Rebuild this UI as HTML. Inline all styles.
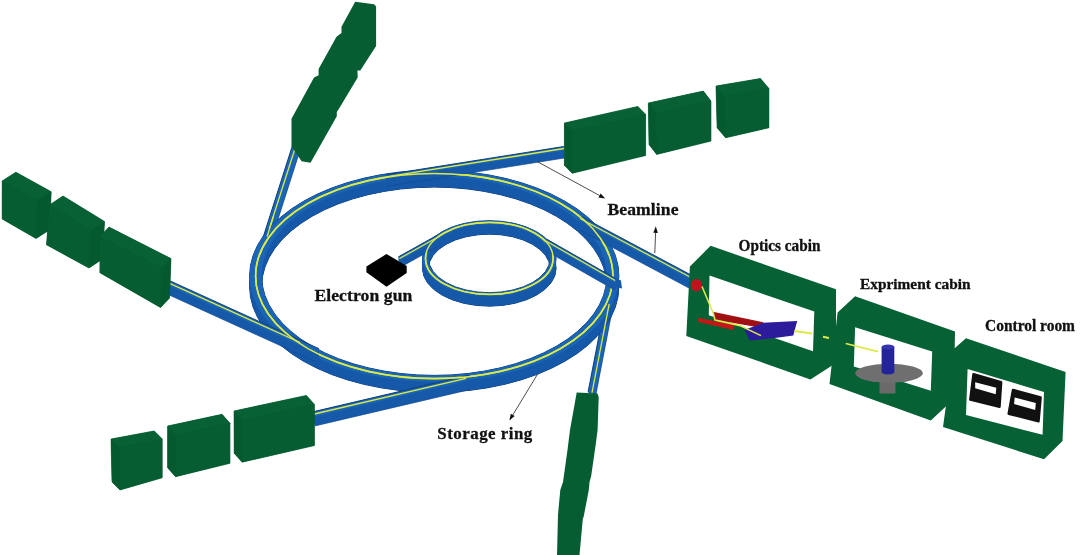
<!DOCTYPE html>
<html><head><meta charset="utf-8"><style>
html,body{margin:0;padding:0;background:#fff;}
svg{display:block;filter:blur(0.35px);}
</style></head><body>
<svg width="1080" height="555" viewBox="0 0 1080 555">
<rect width="1080" height="555" fill="#fff"/>
<polygon points="262.0,240.7 293.0,143.7 301.0,146.3 301.0,147.3 270.0,244.3 262.0,241.7" fill="#1759a9" />
<polygon points="293.0,143.7 262.0,240.7 270.0,243.3 301.0,146.3" fill="#1a65b5" />
<line x1="293.0" y1="143.7" x2="262.0" y2="240.7" stroke="#0e3c78" stroke-width="0.9"/>
<line x1="301.0" y1="147.3" x2="270.0" y2="244.3" stroke="#134b95" stroke-width="0.7"/>
<line x1="296.2" y1="144.8" x2="265.2" y2="241.8" stroke="#dcea48" stroke-width="1.3"/>
<polygon points="588.1,391.8 606.6,296.2 614.4,297.8 614.4,298.8 595.9,394.4 588.1,392.8" fill="#1759a9" />
<polygon points="588.1,391.8 606.6,296.2 614.4,297.8 595.9,393.4" fill="#1a65b5" />
<line x1="588.1" y1="391.8" x2="606.6" y2="296.2" stroke="#0e3c78" stroke-width="0.9"/>
<line x1="595.9" y1="394.4" x2="614.4" y2="298.8" stroke="#134b95" stroke-width="0.7"/>
<line x1="592.0" y1="392.6" x2="610.5" y2="297.0" stroke="#dcea48" stroke-width="1.3"/>
<path d="M249.59,286.50 a184.65,105.80 0 1,0 369.30,0 a184.65,105.80 0 1,0 -369.30,0 Z M261.59,286.50 a172.65,99.40 0 1,0 345.30,0 a172.65,99.40 0 1,0 -345.30,0 Z" fill="#1759a9" fill-rule="evenodd" stroke="#0e3c78" stroke-width="1"/>
<path d="M249.59,276.00 a184.65,105.80 0 1,0 369.30,0 a184.65,105.80 0 1,0 -369.30,0 Z M261.59,276.00 a172.65,99.40 0 1,0 345.30,0 a172.65,99.40 0 1,0 -345.30,0 Z" fill="#1759a9" fill-rule="evenodd" stroke="#0e3c78" stroke-width="1"/>
<path d="M249.59,286.50 a184.65,105.80 0 1,0 369.30,0 a184.65,105.80 0 1,0 -369.30,0 Z M261.59,286.50 a172.65,99.40 0 1,0 345.30,0 a172.65,99.40 0 1,0 -345.30,0 Z" fill="#1759a9" fill-rule="evenodd" />
<path d="M249.59,285.84 a184.65,105.80 0 1,0 369.30,0 a184.65,105.80 0 1,0 -369.30,0 Z M261.59,285.84 a172.65,99.40 0 1,0 345.30,0 a172.65,99.40 0 1,0 -345.30,0 Z" fill="#1759a9" fill-rule="evenodd" />
<path d="M249.59,285.19 a184.65,105.80 0 1,0 369.30,0 a184.65,105.80 0 1,0 -369.30,0 Z M261.59,285.19 a172.65,99.40 0 1,0 345.30,0 a172.65,99.40 0 1,0 -345.30,0 Z" fill="#1759a9" fill-rule="evenodd" />
<path d="M249.59,284.53 a184.65,105.80 0 1,0 369.30,0 a184.65,105.80 0 1,0 -369.30,0 Z M261.59,284.53 a172.65,99.40 0 1,0 345.30,0 a172.65,99.40 0 1,0 -345.30,0 Z" fill="#1759a9" fill-rule="evenodd" />
<path d="M249.59,283.88 a184.65,105.80 0 1,0 369.30,0 a184.65,105.80 0 1,0 -369.30,0 Z M261.59,283.88 a172.65,99.40 0 1,0 345.30,0 a172.65,99.40 0 1,0 -345.30,0 Z" fill="#1759a9" fill-rule="evenodd" />
<path d="M249.59,283.22 a184.65,105.80 0 1,0 369.30,0 a184.65,105.80 0 1,0 -369.30,0 Z M261.59,283.22 a172.65,99.40 0 1,0 345.30,0 a172.65,99.40 0 1,0 -345.30,0 Z" fill="#1759a9" fill-rule="evenodd" />
<path d="M249.59,282.56 a184.65,105.80 0 1,0 369.30,0 a184.65,105.80 0 1,0 -369.30,0 Z M261.59,282.56 a172.65,99.40 0 1,0 345.30,0 a172.65,99.40 0 1,0 -345.30,0 Z" fill="#1759a9" fill-rule="evenodd" />
<path d="M249.59,281.91 a184.65,105.80 0 1,0 369.30,0 a184.65,105.80 0 1,0 -369.30,0 Z M261.59,281.91 a172.65,99.40 0 1,0 345.30,0 a172.65,99.40 0 1,0 -345.30,0 Z" fill="#1759a9" fill-rule="evenodd" />
<path d="M249.59,281.25 a184.65,105.80 0 1,0 369.30,0 a184.65,105.80 0 1,0 -369.30,0 Z M261.59,281.25 a172.65,99.40 0 1,0 345.30,0 a172.65,99.40 0 1,0 -345.30,0 Z" fill="#1759a9" fill-rule="evenodd" />
<path d="M249.59,280.59 a184.65,105.80 0 1,0 369.30,0 a184.65,105.80 0 1,0 -369.30,0 Z M261.59,280.59 a172.65,99.40 0 1,0 345.30,0 a172.65,99.40 0 1,0 -345.30,0 Z" fill="#1759a9" fill-rule="evenodd" />
<path d="M249.59,279.94 a184.65,105.80 0 1,0 369.30,0 a184.65,105.80 0 1,0 -369.30,0 Z M261.59,279.94 a172.65,99.40 0 1,0 345.30,0 a172.65,99.40 0 1,0 -345.30,0 Z" fill="#1759a9" fill-rule="evenodd" />
<path d="M249.59,279.28 a184.65,105.80 0 1,0 369.30,0 a184.65,105.80 0 1,0 -369.30,0 Z M261.59,279.28 a172.65,99.40 0 1,0 345.30,0 a172.65,99.40 0 1,0 -345.30,0 Z" fill="#1759a9" fill-rule="evenodd" />
<path d="M249.59,278.62 a184.65,105.80 0 1,0 369.30,0 a184.65,105.80 0 1,0 -369.30,0 Z M261.59,278.62 a172.65,99.40 0 1,0 345.30,0 a172.65,99.40 0 1,0 -345.30,0 Z" fill="#1759a9" fill-rule="evenodd" />
<path d="M249.59,277.97 a184.65,105.80 0 1,0 369.30,0 a184.65,105.80 0 1,0 -369.30,0 Z M261.59,277.97 a172.65,99.40 0 1,0 345.30,0 a172.65,99.40 0 1,0 -345.30,0 Z" fill="#1759a9" fill-rule="evenodd" />
<path d="M249.59,277.31 a184.65,105.80 0 1,0 369.30,0 a184.65,105.80 0 1,0 -369.30,0 Z M261.59,277.31 a172.65,99.40 0 1,0 345.30,0 a172.65,99.40 0 1,0 -345.30,0 Z" fill="#1759a9" fill-rule="evenodd" />
<path d="M249.59,276.66 a184.65,105.80 0 1,0 369.30,0 a184.65,105.80 0 1,0 -369.30,0 Z M261.59,276.66 a172.65,99.40 0 1,0 345.30,0 a172.65,99.40 0 1,0 -345.30,0 Z" fill="#1759a9" fill-rule="evenodd" />
<path d="M249.59,276.00 a184.65,105.80 0 1,0 369.30,0 a184.65,105.80 0 1,0 -369.30,0 Z M261.59,276.00 a172.65,99.40 0 1,0 345.30,0 a172.65,99.40 0 1,0 -345.30,0 Z" fill="#1a65b5" fill-rule="evenodd" />
<ellipse cx="434.24" cy="276.0" rx="178.65" ry="102.6" fill="none" stroke="#dcea48" stroke-width="1.6"/>
<path d="M422.50,268.40 a66.80,37.75 0 1,0 133.60,0 a66.80,37.75 0 1,0 -133.60,0 Z M428.50,268.40 a60.80,34.25 0 1,0 121.60,0 a60.80,34.25 0 1,0 -121.60,0 Z" fill="#1759a9" fill-rule="evenodd" stroke="#0e3c78" stroke-width="1"/>
<path d="M422.50,258.40 a66.80,37.75 0 1,0 133.60,0 a66.80,37.75 0 1,0 -133.60,0 Z M428.50,258.40 a60.80,34.25 0 1,0 121.60,0 a60.80,34.25 0 1,0 -121.60,0 Z" fill="#1759a9" fill-rule="evenodd" stroke="#0e3c78" stroke-width="1"/>
<path d="M422.50,268.40 a66.80,37.75 0 1,0 133.60,0 a66.80,37.75 0 1,0 -133.60,0 Z M428.50,268.40 a60.80,34.25 0 1,0 121.60,0 a60.80,34.25 0 1,0 -121.60,0 Z" fill="#1759a9" fill-rule="evenodd" />
<path d="M422.50,267.77 a66.80,37.75 0 1,0 133.60,0 a66.80,37.75 0 1,0 -133.60,0 Z M428.50,267.77 a60.80,34.25 0 1,0 121.60,0 a60.80,34.25 0 1,0 -121.60,0 Z" fill="#1759a9" fill-rule="evenodd" />
<path d="M422.50,267.15 a66.80,37.75 0 1,0 133.60,0 a66.80,37.75 0 1,0 -133.60,0 Z M428.50,267.15 a60.80,34.25 0 1,0 121.60,0 a60.80,34.25 0 1,0 -121.60,0 Z" fill="#1759a9" fill-rule="evenodd" />
<path d="M422.50,266.52 a66.80,37.75 0 1,0 133.60,0 a66.80,37.75 0 1,0 -133.60,0 Z M428.50,266.52 a60.80,34.25 0 1,0 121.60,0 a60.80,34.25 0 1,0 -121.60,0 Z" fill="#1759a9" fill-rule="evenodd" />
<path d="M422.50,265.90 a66.80,37.75 0 1,0 133.60,0 a66.80,37.75 0 1,0 -133.60,0 Z M428.50,265.90 a60.80,34.25 0 1,0 121.60,0 a60.80,34.25 0 1,0 -121.60,0 Z" fill="#1759a9" fill-rule="evenodd" />
<path d="M422.50,265.27 a66.80,37.75 0 1,0 133.60,0 a66.80,37.75 0 1,0 -133.60,0 Z M428.50,265.27 a60.80,34.25 0 1,0 121.60,0 a60.80,34.25 0 1,0 -121.60,0 Z" fill="#1759a9" fill-rule="evenodd" />
<path d="M422.50,264.65 a66.80,37.75 0 1,0 133.60,0 a66.80,37.75 0 1,0 -133.60,0 Z M428.50,264.65 a60.80,34.25 0 1,0 121.60,0 a60.80,34.25 0 1,0 -121.60,0 Z" fill="#1759a9" fill-rule="evenodd" />
<path d="M422.50,264.02 a66.80,37.75 0 1,0 133.60,0 a66.80,37.75 0 1,0 -133.60,0 Z M428.50,264.02 a60.80,34.25 0 1,0 121.60,0 a60.80,34.25 0 1,0 -121.60,0 Z" fill="#1759a9" fill-rule="evenodd" />
<path d="M422.50,263.40 a66.80,37.75 0 1,0 133.60,0 a66.80,37.75 0 1,0 -133.60,0 Z M428.50,263.40 a60.80,34.25 0 1,0 121.60,0 a60.80,34.25 0 1,0 -121.60,0 Z" fill="#1759a9" fill-rule="evenodd" />
<path d="M422.50,262.77 a66.80,37.75 0 1,0 133.60,0 a66.80,37.75 0 1,0 -133.60,0 Z M428.50,262.77 a60.80,34.25 0 1,0 121.60,0 a60.80,34.25 0 1,0 -121.60,0 Z" fill="#1759a9" fill-rule="evenodd" />
<path d="M422.50,262.15 a66.80,37.75 0 1,0 133.60,0 a66.80,37.75 0 1,0 -133.60,0 Z M428.50,262.15 a60.80,34.25 0 1,0 121.60,0 a60.80,34.25 0 1,0 -121.60,0 Z" fill="#1759a9" fill-rule="evenodd" />
<path d="M422.50,261.52 a66.80,37.75 0 1,0 133.60,0 a66.80,37.75 0 1,0 -133.60,0 Z M428.50,261.52 a60.80,34.25 0 1,0 121.60,0 a60.80,34.25 0 1,0 -121.60,0 Z" fill="#1759a9" fill-rule="evenodd" />
<path d="M422.50,260.90 a66.80,37.75 0 1,0 133.60,0 a66.80,37.75 0 1,0 -133.60,0 Z M428.50,260.90 a60.80,34.25 0 1,0 121.60,0 a60.80,34.25 0 1,0 -121.60,0 Z" fill="#1759a9" fill-rule="evenodd" />
<path d="M422.50,260.27 a66.80,37.75 0 1,0 133.60,0 a66.80,37.75 0 1,0 -133.60,0 Z M428.50,260.27 a60.80,34.25 0 1,0 121.60,0 a60.80,34.25 0 1,0 -121.60,0 Z" fill="#1759a9" fill-rule="evenodd" />
<path d="M422.50,259.65 a66.80,37.75 0 1,0 133.60,0 a66.80,37.75 0 1,0 -133.60,0 Z M428.50,259.65 a60.80,34.25 0 1,0 121.60,0 a60.80,34.25 0 1,0 -121.60,0 Z" fill="#1759a9" fill-rule="evenodd" />
<path d="M422.50,259.02 a66.80,37.75 0 1,0 133.60,0 a66.80,37.75 0 1,0 -133.60,0 Z M428.50,259.02 a60.80,34.25 0 1,0 121.60,0 a60.80,34.25 0 1,0 -121.60,0 Z" fill="#1759a9" fill-rule="evenodd" />
<path d="M422.50,258.40 a66.80,37.75 0 1,0 133.60,0 a66.80,37.75 0 1,0 -133.60,0 Z M428.50,258.40 a60.80,34.25 0 1,0 121.60,0 a60.80,34.25 0 1,0 -121.60,0 Z" fill="#1a65b5" fill-rule="evenodd" />
<ellipse cx="489.3" cy="258.4" rx="63.8" ry="36" fill="none" stroke="#dcea48" stroke-width="1.6"/>
<line x1="273.5" y1="216" x2="267.2" y2="236.5" stroke="#dcea48" stroke-width="1.3"/>
<line x1="604.1" y1="330" x2="609.2" y2="304" stroke="#dcea48" stroke-width="1.3"/>
<polygon points="162.6,283.0 164.6,278.4 319.0,348.7 319.0,357.7 317.0,362.3 162.6,292.0" fill="#1759a9" />
<polygon points="164.6,278.4 319.0,348.7 317.0,353.3 162.6,283.0" fill="#1a65b5" />
<line x1="164.6" y1="278.4" x2="319.0" y2="348.7" stroke="#0e3c78" stroke-width="0.9"/>
<line x1="162.6" y1="292.0" x2="317.0" y2="362.3" stroke="#134b95" stroke-width="0.7"/>
<line x1="163.6" y1="280.7" x2="300.0" y2="342.5" stroke="#dcea48" stroke-width="1.3"/>
<polygon points="313.8,411.6 469.4,375.1 470.6,379.9 470.6,389.4 315.0,425.9 313.8,421.1" fill="#1759a9" />
<polygon points="313.8,411.6 469.4,375.1 470.6,379.9 315.0,416.4" fill="#1a65b5" />
<line x1="313.8" y1="411.6" x2="469.4" y2="375.1" stroke="#0e3c78" stroke-width="0.9"/>
<line x1="315.0" y1="425.9" x2="470.6" y2="389.4" stroke="#134b95" stroke-width="0.7"/>
<line x1="314.4" y1="414.0" x2="466.0" y2="378.4" stroke="#dcea48" stroke-width="1.3"/>
<polygon points="385.7,174.8 563.7,146.5 564.3,150.5 564.3,158.0 386.3,186.3 385.7,182.3" fill="#1759a9" />
<polygon points="563.7,146.5 385.7,174.8 386.3,178.8 564.3,150.5" fill="#1a65b5" />
<line x1="563.7" y1="146.5" x2="385.7" y2="174.8" stroke="#0e3c78" stroke-width="0.9"/>
<line x1="564.3" y1="158.0" x2="386.3" y2="186.3" stroke="#134b95" stroke-width="0.7"/>
<line x1="564.0" y1="148.5" x2="386.0" y2="176.8" stroke="#dcea48" stroke-width="1.3"/>
<polygon points="578.9,220.5 581.1,216.5 691.1,275.0 691.1,284.0 688.9,288.0 578.9,229.5" fill="#1759a9" />
<polygon points="581.1,216.5 691.1,275.0 688.9,279.0 578.9,220.5" fill="#1a65b5" />
<line x1="581.1" y1="216.5" x2="691.1" y2="275.0" stroke="#0e3c78" stroke-width="0.9"/>
<line x1="578.9" y1="229.5" x2="688.9" y2="288.0" stroke="#134b95" stroke-width="0.7"/>
<line x1="580.0" y1="218.5" x2="690.0" y2="277.0" stroke="#dcea48" stroke-width="1.3"/>
<ellipse cx="434.24" cy="276.0" rx="178.65" ry="102.6" fill="none" stroke="#dcea48" stroke-width="1.5"/>
<polygon points="545.0,242.7 547.0,239.3 617.0,279.3 617.0,286.8 615.0,290.2 545.0,250.2" fill="#1759a9" />
<polygon points="547.0,239.3 617.0,279.3 615.0,282.7 545.0,242.7" fill="#1a65b5" />
<line x1="547.0" y1="239.3" x2="617.0" y2="279.3" stroke="#0e3c78" stroke-width="0.9"/>
<line x1="545.0" y1="250.2" x2="615.0" y2="290.2" stroke="#134b95" stroke-width="0.7"/>
<line x1="546.0" y1="241.0" x2="616.0" y2="281.0" stroke="#dcea48" stroke-width="1.3"/>
<polygon points="615.0,278.0 621.0,280.5 622.0,288.5 616.0,287.0" fill="#1759a9" />
<polygon points="398.5,256.8 437.0,235.3 439.0,238.7 439.0,245.7 400.5,267.2 398.5,263.8" fill="#1759a9" />
<polygon points="398.5,256.8 437.0,235.3 439.0,238.7 400.5,260.2" fill="#1a65b5" />
<line x1="398.5" y1="256.8" x2="437.0" y2="235.3" stroke="#0e3c78" stroke-width="0.9"/>
<line x1="400.5" y1="267.2" x2="439.0" y2="245.7" stroke="#134b95" stroke-width="0.7"/>
<line x1="399.5" y1="258.5" x2="438.0" y2="237.0" stroke="#dcea48" stroke-width="1.3"/>
<ellipse cx="489.3" cy="258.4" rx="63.8" ry="36" fill="none" stroke="#dcea48" stroke-width="1.4"/>
<polygon points="386.5,254.0 406.7,266.0 406.7,273.0 386.5,286.8 366.4,272.3 366.4,266.6" fill="#000" />
<polygon points="2.2,180.9 15.9,172.2 51.2,191.7 49.7,229.8 36.0,238.5 2.2,219.0" fill="#04592e" stroke="#04592e" stroke-width="0.6" stroke-linejoin="round"/>
<polygon points="37.5,200.4 51.2,191.7 49.7,229.8 36.0,238.5" fill="#04592e" />
<polygon points="2.2,180.9 37.5,200.4 51.2,191.7 15.9,172.2" fill="#076135" />
<polygon points="2.2,180.9 37.5,200.4 36.0,238.5 2.2,219.0" fill="#055d31" />
<polygon points="46.5,244.8 49.5,205.0 63.0,196.0 104.5,221.5 102.5,259.0 89.0,268.0" fill="#04592e" stroke="#04592e" stroke-width="0.6" stroke-linejoin="round"/>
<polygon points="91.0,230.5 104.5,221.5 102.5,259.0 89.0,268.0" fill="#04592e" />
<polygon points="49.5,205.0 91.0,230.5 104.5,221.5 63.0,196.0" fill="#076135" />
<polygon points="49.5,205.0 91.0,230.5 89.0,268.0 46.5,244.8" fill="#055d31" />
<polygon points="99.9,272.7 100.0,236.5 109.0,227.1 171.0,258.6 169.5,298.1 160.5,307.5" fill="#04592e" stroke="#04592e" stroke-width="0.6" stroke-linejoin="round"/>
<polygon points="162.0,268.0 171.0,258.6 169.5,298.1 160.5,307.5" fill="#04592e" />
<polygon points="100.0,236.5 162.0,268.0 171.0,258.6 109.0,227.1" fill="#076135" />
<polygon points="100.0,236.5 162.0,268.0 160.5,307.5 99.9,272.7" fill="#055d31" />
<polygon points="564.4,123.0 637.8,106.4 645.6,114.4 645.6,155.6 572.2,173.3 564.4,165.3" fill="#04592e" stroke="#04592e" stroke-width="0.6" stroke-linejoin="round"/>
<polygon points="572.2,131.0 564.4,123.0 564.4,165.3 572.2,173.3" fill="#04592e" />
<polygon points="572.2,131.0 645.6,114.4 637.8,106.4 564.4,123.0" fill="#076135" />
<polygon points="572.2,131.0 645.6,114.4 645.6,155.6 572.2,173.3" fill="#055d31" />
<polygon points="648.3,103.0 703.3,91.1 711.0,101.1 711.0,141.1 656.7,154.4 649.0,144.4" fill="#04592e" stroke="#04592e" stroke-width="0.6" stroke-linejoin="round"/>
<polygon points="656.0,113.0 648.3,103.0 649.0,144.4 656.7,154.4" fill="#04592e" />
<polygon points="656.0,113.0 711.0,101.1 703.3,91.1 648.3,103.0" fill="#076135" />
<polygon points="656.0,113.0 711.0,101.1 711.0,141.1 656.7,154.4" fill="#055d31" />
<polygon points="716.0,86.0 760.4,78.5 768.9,88.5 768.9,127.8 725.6,137.8 717.1,127.8" fill="#04592e" stroke="#04592e" stroke-width="0.6" stroke-linejoin="round"/>
<polygon points="724.5,96.0 716.0,86.0 717.1,127.8 725.6,137.8" fill="#04592e" />
<polygon points="724.5,96.0 768.9,88.5 760.4,78.5 716.0,86.0" fill="#076135" />
<polygon points="724.5,96.0 768.9,88.5 768.9,127.8 725.6,137.8" fill="#055d31" />
<polygon points="111.0,439.0 154.2,430.9 162.2,438.9 162.2,477.8 120.0,490.0 112.0,482.0" fill="#04592e" stroke="#04592e" stroke-width="0.6" stroke-linejoin="round"/>
<polygon points="119.0,447.0 111.0,439.0 112.0,482.0 120.0,490.0" fill="#04592e" />
<polygon points="119.0,447.0 162.2,438.9 154.2,430.9 111.0,439.0" fill="#076135" />
<polygon points="119.0,447.0 162.2,438.9 162.2,477.8 120.0,490.0" fill="#055d31" />
<polygon points="167.6,426.0 222.0,414.3 230.0,423.3 230.0,463.3 175.6,476.7 167.6,467.7" fill="#04592e" stroke="#04592e" stroke-width="0.6" stroke-linejoin="round"/>
<polygon points="175.6,435.0 167.6,426.0 167.6,467.7 175.6,476.7" fill="#04592e" />
<polygon points="175.6,435.0 230.0,423.3 222.0,414.3 167.6,426.0" fill="#076135" />
<polygon points="175.6,435.0 230.0,423.3 230.0,463.3 175.6,476.7" fill="#055d31" />
<polygon points="234.0,411.0 306.4,395.4 314.4,404.4 314.4,445.6 242.2,462.2 234.2,453.2" fill="#04592e" stroke="#04592e" stroke-width="0.6" stroke-linejoin="round"/>
<polygon points="242.0,420.0 234.0,411.0 234.2,453.2 242.2,462.2" fill="#04592e" />
<polygon points="242.0,420.0 314.4,404.4 306.4,395.4 234.0,411.0" fill="#076135" />
<polygon points="242.0,420.0 314.4,404.4 314.4,445.6 242.2,462.2" fill="#055d31" />
<polygon points="355.2,1.7 374.0,4.3 376.1,6.5 376.1,46.0 360.3,70.6 357.4,70.6 357.7,77.4 339.7,107.6 336.8,112.0 336.8,116.3 310.5,162.8 301.6,161.3 291.5,146.2 291.5,118.8 314.0,77.5 318.6,75.3 318.6,69.0 336.5,36.7 341.5,33.1 341.5,26.7" fill="#055d31" />
<polygon points="576.7,392.6 597.5,393.5 598.7,397.3 597.6,430.0 595.5,446.0 591.1,476.5 589.5,482.0 588.8,490.0 583.7,516.5 582.8,519.0 579.4,556.0 557.0,556.0 558.0,514.8 560.3,490.0 563.0,482.0 567.3,451.6 570.0,430.0" fill="#055d31" />
<path d="M689.9,266.5 L710.6,245.8 L836.0,289.3 L836.0,363.0 L810.4,379.4 L686.3,336.0 Z M709.5,275.5 L814.3,311.6 L813.0,351.3 L708.8,315.3 Z" fill="#066135" fill-rule="evenodd"/>
<path d="M837.6,312.4 L855.1,296.2 L955.0,331.4 L953.8,399.0 L930.8,420.5 L829.5,384.0 Z M855.1,327.3 L932.2,351.6 L930.8,390.8 L853.8,366.5 Z" fill="#066135" fill-rule="evenodd"/>
<path d="M953.8,349.0 L966.0,338.3 L1065.6,372.0 L1062.5,441.0 L1044.0,459.3 L943.0,427.0 Z M967.6,369.0 L1044.0,392.0 L1042.6,434.8 L966.0,415.0 Z" fill="#066135" fill-rule="evenodd"/>
<ellipse cx="696.4" cy="285.2" rx="5.7" ry="6.2" fill="#c01222"/>
<polygon points="697.8,317.8 734.4,325.1 733.3,330.0 698.3,322.0" fill="#c41818" />
<polygon points="712.8,311.7 763.3,322.3 762.2,328.0 713.9,319.5" fill="#a00f12" />
<polygon points="744.4,330.0 763.3,322.8 797.2,321.1 793.3,335.6 776.7,337.8 750.0,340.6" fill="#2c1c9c" />
<polyline points="702,286.5 713.3,313.3 715,320 720,321.1 740,325.6 761,335.6" fill="none" stroke="#dcea48" stroke-width="1.6" stroke-linejoin="round"/>
<line x1="794.4" y1="331.1" x2="812" y2="333.5" stroke="#dcea48" stroke-width="2"/>
<line x1="823" y1="336.8" x2="829" y2="338" stroke="#dcea48" stroke-width="2"/>
<line x1="845.7" y1="343.5" x2="878" y2="351.6" stroke="#dcea48" stroke-width="1.8"/>
<rect x="879.5" y="372" width="16" height="21.5" fill="#6a6a6a"/>
<ellipse cx="889" cy="373.2" rx="33.8" ry="9.5" fill="#6f6f6f"/>
<rect x="881.6" y="347" width="12.7" height="25" fill="#23239a"/>
<ellipse cx="888" cy="347" rx="6.35" ry="2.5" fill="#3535b0"/>
<ellipse cx="888" cy="372" rx="6.35" ry="2.5" fill="#23239a"/>
<polygon points="973.5,374.2 1001.1,382.3 999.5,406.7 970.3,399.6" fill="#111" stroke="#111" stroke-width="2.5" stroke-linejoin="round"/>
<polygon points="975.2,382.3 996.3,387.7 995.7,394.2 975.2,388.3" fill="#fff" />
<polygon points="1013.0,389.9 1040.6,397.5 1038.5,421.3 1008.7,413.7" fill="#111" stroke="#111" stroke-width="2.5" stroke-linejoin="round"/>
<polygon points="1014.7,397.5 1035.8,402.9 1035.2,409.9 1014.1,404.0" fill="#fff" />
<line x1="537.8" y1="161.9" x2="599.5" y2="195.5" stroke="#3a3a3a" stroke-width="0.9"/>
<polygon points="605.2,198.6 598.4,197.5 600.6,193.5" fill="#111" />
<line x1="654.8" y1="253" x2="655.6" y2="232.8" stroke="#3a3a3a" stroke-width="0.9"/>
<polygon points="655.8,226.3 657.9,232.9 653.3,232.7" fill="#111" />
<line x1="537.5" y1="374.3" x2="512.8" y2="414.9" stroke="#3a3a3a" stroke-width="0.9"/>
<polygon points="509.4,420.5 510.8,413.8 514.7,416.1" fill="#111" />
<text x="607.5" y="215" font-family="Liberation Serif, serif" font-weight="bold" font-size="17.6" fill="#111" stroke="#111" stroke-width="0.3" textLength="71" lengthAdjust="spacing">Beamline</text>
<text x="314.4" y="301.3" font-family="Liberation Serif, serif" font-weight="bold" font-size="17.6" fill="#111" stroke="#111" stroke-width="0.3" textLength="98" lengthAdjust="spacing">Electron gun</text>
<text x="437.3" y="438.8" font-family="Liberation Serif, serif" font-weight="bold" font-size="16.9" fill="#111" stroke="#111" stroke-width="0.3" textLength="95" lengthAdjust="spacing">Storage ring</text>
<text x="738.5" y="251.1" font-family="Liberation Serif, serif" font-weight="bold" font-size="16.2" fill="#111" stroke="#111" stroke-width="0.3" textLength="82" lengthAdjust="spacingAndGlyphs">Optics cabin</text>
<text x="860" y="288.9" font-family="Liberation Serif, serif" font-weight="bold" font-size="15.3" fill="#111" stroke="#111" stroke-width="0.3" textLength="110.5" lengthAdjust="spacingAndGlyphs">Expriment cabin</text>
<text x="985" y="331.4" font-family="Liberation Serif, serif" font-weight="bold" font-size="15.8" fill="#111" stroke="#111" stroke-width="0.3" textLength="90" lengthAdjust="spacingAndGlyphs">Control room</text>
</svg></body></html>
